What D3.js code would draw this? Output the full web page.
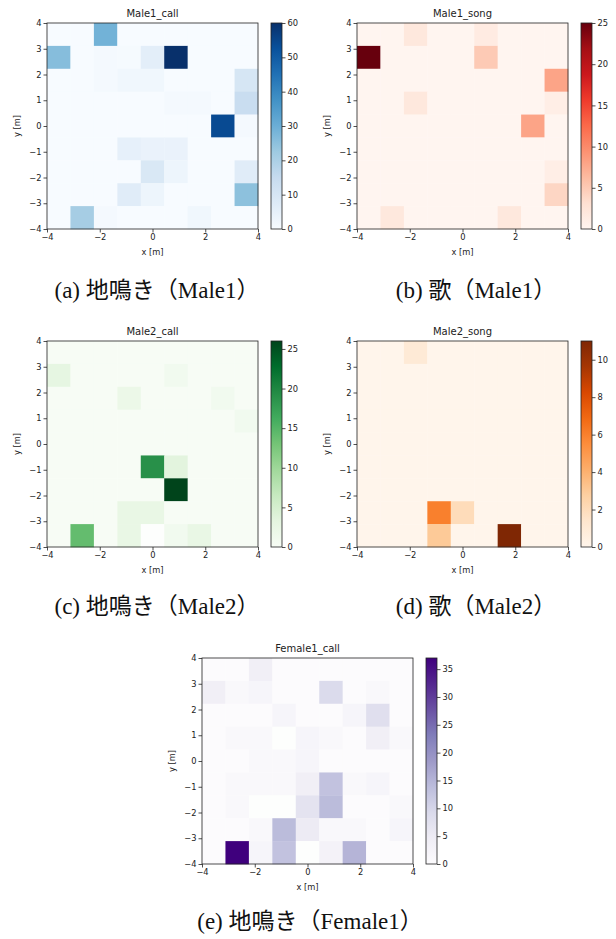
<!DOCTYPE html>
<html><head><meta charset="utf-8">
<script src="https://cdn.jsdelivr.net/npm/d3@7"></script>
<style>
html,body{margin:0;padding:0;background:#fff;}
svg{display:block;}
</style></head>
<body>
<svg id="chart" width="616" height="939"></svg>
<script>
// Grid: 9x9 cells spanning -4..4 m. Rows listed from top (y≈4) to bottom (y≈-4).
const gridEdges = d3.range(10).map(i => -4 + i * 8 / 9);
const axisTicks = [-4, -2, 0, 2, 4];
const yTicks = [-4, -3, -2, -1, 0, 1, 2, 3, 4];

const male1Call = [
  [0, 0, 29, 0, 0, 0, 0, 0, 0],
  [26, 0, 1, 0.5, 6, 60, 0, 0, 0],
  [0, 0, 1, 2, 2, 0, 0, 0, 10],
  [0, 0, 0, 0, 0, 1, 1, 0, 14],
  [0, 0, 0, 0, 0, 0, 0, 54, 1],
  [0, 0, 0, 5, 4, 4, 0, 0, 0],
  [0, 0, 0, 0, 9, 3, 0, 0, 7],
  [0, 0, 0, 7, 3, 0, 0, 0, 25],
  [0, 21, 1, 0, 0, 0, 2, 0, 0]
];
const male1Song = [
  [0, 0, 2, 0, 0, 1.5, 0, 0, 0],
  [25, 0, 0, 0, 0, 5, 0, 0, 0],
  [0, 0, 0, 0, 0, 0, 0, 0, 8],
  [0, 0, 2, 0, 0, 0, 0, 0, 1],
  [0, 0, 0, 0, 0, 0, 0, 8, 0],
  [0, 0, 0, 0, 0, 0, 0, 0, 0],
  [0, 0, 0, 0, 0, 0, 0, 0, 1],
  [0, 0, 0, 0, 0, 0, 0, 0, 4],
  [0, 2, 0, 0, 0, 0, 2, 0, 0]
];
const male2Call = [
  [0, 0, 0, 0, 0, 0, 0, 0, 0],
  [3, 0, 0, 0, 0, 1, 0, 0, 0],
  [0, 0, 0, 2, 0, 0, 0, 1, 0],
  [0, 0, 0, 0, 0, 0, 0, 0, 1],
  [0, 0, 0, 0, 0, 0, 0, 0, 0],
  [0, 0, 0, 0, 19, 3.5, 0, 0, 0],
  [0, 0, 0, 0, 0, 26, 0, 0, 0],
  [0, 0, 0, 2.5, 2.5, 0, 0, 0, 0],
  [0, 14, 0, 2.5, null, 1, 2.5, 0, 0]
];
const male2Song = [
  [0, 0, 1, 0, 0, 0, 0, 0, 0],
  [0, 0, 0, 0, 0, 0, 0, 0, 0],
  [0, 0, 0, 0, 0, 0, 0, 0, 0],
  [0, 0, 0, 0, 0, 0, 0, 0, 0],
  [0, 0, 0, 0, 0, 0, 0, 0, 0],
  [0, 0, 0, 0, 0, 0, 0, 0, 0],
  [0, 0, 0, 0, 0, 0, 0, 0, 0],
  [0, 0, 0, 6, 2, 0, 0, 0, 0],
  [0, 0, 0, 3, 0, 0, 11, 0, 0]
];
const female1Call = [
  [0, 0, 4, 0, 0, 0, 0, 0, 0],
  [4, 1, 2, 0, 0, 9, 0, 1, 0],
  [0, 0, 0, 2, 0, 0, 2, 8, 0],
  [0, 1, 1, null, 2, 1, 0, 4, 1],
  [0, 0, 1, 1, 2, 0, 0, 0, 0],
  [0, 1, 1, 1, 4, 13, 1, 2, 0],
  [0, 1, null, null, 7, 14, 0, 0, 1],
  [0, 0, 1, 14, 5, 1, 1, 0, 2],
  [0, 37, 2, 13, null, 3, 15, 0, 0]
];

const panelTitles = ["Male1_call", "Male1_song", "Male2_call", "Male2_song", "Female1_call"];
const captions = ["(a) 地鳴き（Male1）", "(b) 歌（Male1）", "(c) 地鳴き（Male2）", "(d) 歌（Male2）", "(e) 地鳴き（Female1）"];
const colorbarTicks = [
  [0, 10, 20, 30, 40, 50, 60],
  [0, 5, 10, 15, 20, 25],
  [0, 5, 10, 15, 20, 25],
  [0, 2, 4, 6, 8, 10],
  [0, 5, 10, 15, 20, 25, 30, 35]
];
const schemes = [d3.schemeBlues[9], d3.schemeReds[9], d3.schemeGreens[9], d3.schemeOranges[9], d3.schemePurples[9]];
const datasets = [male1Call, male1Song, male2Call, male2Song, female1Call];

// layout
const panelPos = [
  {left: 47, top: 23, cap: 157, capY: 298},
  {left: 357, top: 23, cap: 476, capY: 298},
  {left: 47, top: 341, cap: 157, capY: 614},
  {left: 357, top: 341, cap: 476, capY: 614},
  {left: 202, top: 658, cap: 310, capY: 929}
];
const W = 211, H = 206, cbGap = 13, cbW = 11;
const svg = d3.select("#chart");
const defs = svg.append("defs");
const spine = "#222";
const sans = "DejaVu Sans";

datasets.forEach((data, k) => {
  const p = panelPos[k];
  const scheme = schemes[k];
  const vmax = d3.max(data.flat().filter(v => v != null));
  const color = d3.scaleLinear()
    .domain(d3.range(9).map(i => i * vmax / 8))
    .range(scheme)
    .interpolate(d3.interpolateRgb)
    .clamp(true);
  const x = d3.scaleLinear().domain([-4, 4]).range([p.left, p.left + W]);
  const y = d3.scaleLinear().domain([-4, 4]).range([p.top + H, p.top]);
  const g = svg.append("g");

  const cells = [];
  data.forEach((row, r) => row.forEach((v, c) => cells.push({r, c, v})));
  g.selectAll("rect.cell").data(cells).enter().append("rect")
    .attr("class", "cell")
    .attr("x", d => x(gridEdges[d.c]))
    .attr("width", d => x(gridEdges[d.c + 1]) - x(gridEdges[d.c]) + 0.3)
    .attr("y", d => y(gridEdges[9 - d.r]))
    .attr("height", d => y(gridEdges[8 - d.r]) - y(gridEdges[9 - d.r]) + 0.3)
    .attr("fill", d => d.v == null ? "#fdfefd" : color(d.v));

  // axes
  const xa = g.append("g").attr("transform", `translate(0,${p.top + H})`)
    .call(d3.axisBottom(x).tickValues(axisTicks).tickSize(3.5).tickPadding(2));
  const ya = g.append("g").attr("transform", `translate(${p.left},0)`)
    .call(d3.axisLeft(y).tickValues(yTicks).tickSize(3.5).tickPadding(2));
  [xa, ya].forEach(a => {
    a.attr("font-family", sans);
    a.select(".domain").remove();
    a.selectAll(".tick line").attr("stroke", spine).attr("stroke-width", 0.8);
    a.selectAll(".tick text").attr("font-size", 8.3).attr("fill", "#222");
  });
  g.append("rect").attr("x", p.left).attr("y", p.top).attr("width", W).attr("height", H)
    .attr("fill", "none").attr("stroke", spine).attr("stroke-width", 0.8);

  g.append("text").attr("x", p.left + W / 2).attr("y", p.top - 6)
    .attr("text-anchor", "middle").attr("font-family", sans).attr("font-size", 10)
    .attr("fill", "#222").text(panelTitles[k]);
  g.append("text").attr("x", p.left + W / 2).attr("y", p.top + H + 26)
    .attr("text-anchor", "middle").attr("font-family", sans).attr("font-size", 8.3)
    .attr("fill", "#222").text("x [m]");
  g.append("text")
    .attr("transform", `translate(${p.left - 27},${p.top + H / 2}) rotate(-90)`)
    .attr("text-anchor", "middle").attr("font-family", sans).attr("font-size", 8.3)
    .attr("fill", "#222").text("y [m]");

  // colorbar
  const cbx = p.left + W + cbGap;
  const gid = "grad" + k;
  const grad = defs.append("linearGradient").attr("id", gid)
    .attr("x1", 0).attr("y1", 1).attr("x2", 0).attr("y2", 0);
  scheme.forEach((col, i) => grad.append("stop").attr("offset", i / 8).attr("stop-color", col));
  g.append("rect").attr("x", cbx).attr("y", p.top).attr("width", cbW).attr("height", H)
    .attr("fill", `url(#${gid})`).attr("stroke", spine).attr("stroke-width", 0.8);
  const cy = d3.scaleLinear().domain([0, vmax]).range([p.top + H, p.top]);
  const ca = g.append("g").attr("transform", `translate(${cbx + cbW},0)`)
    .call(d3.axisRight(cy).tickValues(colorbarTicks[k]).tickSize(3.5).tickPadding(2));
  ca.attr("font-family", sans);
  ca.select(".domain").remove();
  ca.selectAll(".tick line").attr("stroke", spine).attr("stroke-width", 0.8);
  ca.selectAll(".tick text").attr("font-size", 8.3).attr("fill", "#222");

  // caption
  svg.append("text").attr("x", p.cap).attr("y", p.capY).attr("text-anchor", "middle")
    .attr("font-family", "'Liberation Serif','Noto Sans CJK JP',serif").attr("font-size", 23)
    .attr("fill", "#111").text(captions[k]);
});
</script>
</body></html>
